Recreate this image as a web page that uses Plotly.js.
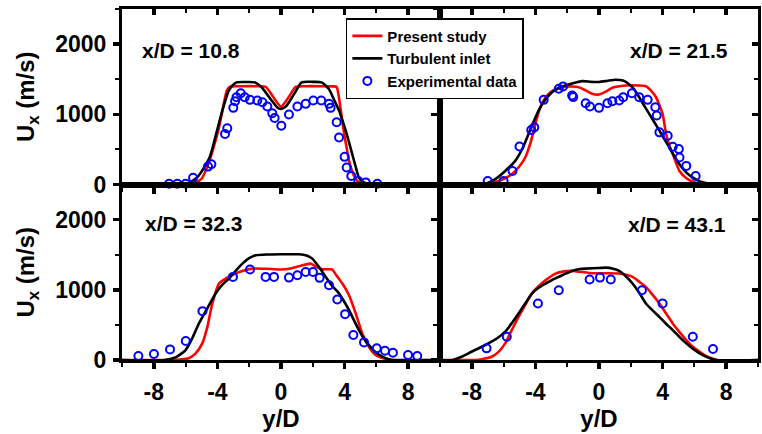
<!DOCTYPE html>
<html>
<head>
<meta charset="utf-8">
<script src="https://cdn.plot.ly/plotly-3.0.1.min.js"></script>
<style>html,body{margin:0;padding:0;background:#fff;}#chart{width:762px;height:434px;}</style>
</head>
<body>
<div id="chart"></div>
<script>
// ---------- data: y/D positions and U_x (m/s) ----------
const panelLabels = ["x/D = 10.8", "x/D = 21.5", "x/D = 32.3", "x/D = 43.1"];
const seriesNames = ["Present study", "Turbulent inlet", "Experimental data"];
const xTickVals = [-8, -4, 0, 4, 8];
const xTickText = ["-8", "-4", "0", "4", "8"];
const yTickVals = [0, 1000, 2000];

// Panel 1: x/D = 10.8
const p1RedY = [-10,-6,-5.5,-5.0,-4.5,-4.2,-3.9,-3.6,-3.4,-3.2,-2.5,-1.5,-0.96,-0.5,0,0.5,0.92,1.5,2.5,3.3,3.5,3.6,3.75,3.9,4.1,4.28,4.5,4.8,5.2,5.6,10];
const p1RedU = [0,0,15,80,336,560,814,1150,1340,1395,1400,1400,1390,1250,1110,1250,1390,1400,1400,1398,1390,1300,1080,830,560,336,170,50,10,0,0];
const p1BlkY = [-10,-6.5,-5.8,-5.2,-4.5,-4.1,-3.69,-3.3,-3.06,-2.8,-2.2,-1.64,-1.2,-0.6,-0.2,0,0.3,0.8,1.3,2.0,2.55,3.0,3.35,3.65,3.85,4.07,4.28,4.48,4.7,4.9,5.2,5.7,10];
const p1BlkU = [0,0,20,120,380,700,1053,1330,1410,1455,1460,1455,1380,1200,1090,1077,1110,1280,1455,1462,1455,1364,1200,1053,920,767,600,433,250,100,30,0,0];
const p1ExpY = [-7.04,-6.52,-6.0,-5.53,-4.59,-4.38,-3.52,-3.38,-3.0,-2.89,-2.8,-2.53,-2.28,-1.95,-1.49,-1.17,-0.86,-0.55,-0.4,0.02,0.5,1.03,1.55,2.03,2.53,3.02,3.12,3.5,3.65,4.0,4.13,4.42,4.86,5.33,6.06];
const p1ExpU = [11,11,11,97,255,289,719,800,1092,1186,1243,1301,1243,1206,1196,1172,1110,1014,948,838,996,1110,1149,1196,1196,1149,1092,886,670,394,241,122,50,30,11];

// Panel 2: x/D = 21.5
const p2RedY = [-10,-7.5,-7.0,-6.3,-5.49,-5.0,-4.64,-4.3,-4.0,-3.8,-3.59,-3.3,-2.95,-2.4,-1.69,-1.2,-0.84,-0.4,0,0.4,0.84,1.69,2.5,2.95,3.3,3.59,3.8,4.0,4.22,4.45,4.64,5.06,5.5,5.9,6.5,10];
const p2RedU = [0,0,10,50,146,260,384,600,862,1030,1149,1260,1330,1380,1397,1380,1340,1290,1282,1320,1378,1410,1410,1400,1330,1243,1130,1006,719,540,433,193,90,40,0,0];
const p2BlkY = [-10,-7.6,-7.0,-6.5,-5.9,-5.27,-4.8,-4.43,-4.1,-3.8,-3.5,-3.16,-2.8,-2.32,-1.7,-1.05,-0.5,0,0.5,1.05,1.5,1.79,2.2,2.53,2.85,3.16,3.5,3.8,4.1,4.43,4.75,5.06,5.5,5.9,6.4,6.96,7.5,10];
const p2BlkU = [0,0,20,80,193,336,520,719,900,1053,1170,1268,1340,1397,1440,1473,1462,1460,1475,1493,1480,1445,1360,1243,1120,1006,880,767,650,527,400,289,170,97,40,11,0,0];
const p2ExpY = [-7.0,-6.0,-5.44,-5.0,-4.26,-4.07,-3.48,-2.53,-2.26,-1.69,-1.62,-0.84,-0.57,0,0.53,0.84,1.27,1.52,2.07,2.53,3.06,3.54,3.63,3.8,4.32,4.64,5.02,5.06,5.49,6.08];
const p2ExpU = [50,50,193,542,776,814,1206,1364,1397,1268,1245,1158,1110,1092,1158,1186,1196,1243,1301,1243,1206,1101,982,743,695,537,504,384,265,122];

// Panel 3: x/D = 32.3
const p3RedY = [-10,-7.0,-6.4,-5.8,-5.37,-4.95,-4.63,-4.32,-3.9,-3.58,-3.0,-2.43,-1.8,-1.0,0,0.5,1.2,1.87,2.2,2.6,3.2,3.5,3.86,4.28,4.7,5.11,5.53,5.95,6.58,7.0,10];
const p3RedU = [0,0,5,24,95,237,473,805,1089,1146,1220,1269,1302,1300,1290,1300,1340,1373,1330,1292,1290,1200,1089,923,663,379,189,71,14,0,0];
const p3BlkY = [-10,-7.3,-6.6,-6.0,-5.6,-5.16,-4.6,-4.11,-3.7,-3.27,-2.85,-2.43,-2.0,-1.59,-0.8,0.08,1.13,1.6,1.97,2.4,2.81,3.2,3.65,3.95,4.28,4.6,4.9,5.2,5.53,5.9,6.37,6.9,7.2,10];
const p3BlkU = [0,0,40,142,300,521,750,947,1070,1160,1270,1373,1450,1491,1503,1506,1506,1490,1444,1320,1184,1060,947,840,710,560,426,310,213,120,47,5,0,0];
const p3ExpY = [-8.97,-7.99,-6.98,-5.99,-4.94,-3.02,-1.95,-0.97,-0.44,0.5,1.03,1.55,2.01,2.43,3.02,3.54,4.03,4.55,5.22,6.02,6.54,7.04,7.99,8.57];
const p3ExpU = [57,85,151,270,696,1184,1288,1184,1184,1174,1207,1254,1254,1170,1065,862,653,355,251,166,132,104,71,57];

// Panel 4: x/D = 43.1
const p4RedY = [-10,-7.8,-7.3,-6.75,-6.3,-5.9,-5.5,-5.06,-4.6,-4.22,-3.8,-3.37,-2.74,-2.2,-1.69,-0.63,0,1.27,2.11,2.5,2.95,3.4,3.8,4.2,4.64,5.05,5.49,5.9,6.33,6.8,7.4,10];
const p4RedU = [0,0,15,47,120,237,420,615,800,947,1050,1136,1231,1262,1269,1240,1235,1231,1184,1120,1042,920,805,670,521,400,284,190,118,50,0,0];
const p4BlkY = [-10,-9.2,-8.6,-8.02,-7.5,-6.96,-6.4,-5.9,-5.5,-5.06,-4.6,-4.22,-3.8,-3.37,-2.95,-2.53,-2.1,-1.69,-1.2,-0.84,0,0.42,0.9,1.27,1.7,2.11,2.55,2.95,3.4,3.8,4.2,4.64,5.05,5.49,5.9,6.33,6.9,7.4,10];
const p4BlkU = [0,0,50,118,175,237,310,403,520,663,820,947,1030,1089,1140,1184,1230,1269,1295,1302,1310,1316,1300,1269,1190,1089,950,805,700,615,520,426,330,237,160,95,30,0,0];
const p4ExpY = [-7.07,-5.8,-3.84,-2.53,-0.59,0.06,0.74,2.7,4.0,5.9,7.17];
const p4ExpU = [166,332,805,994,1146,1174,1146,994,805,332,156];

// ---------- build ----------
const RED = "#ff0000", BLK = "#000000", BLU = "#0000ff";
const FONT = "Liberation Sans, Arial, sans-serif";
const panels = [
  {red:[p1RedY,p1RedU], blk:[p1BlkY,p1BlkU], exp:[p1ExpY,p1ExpU], xa:"x",  ya:"y",  mx:"x5", my:"y5"},
  {red:[p2RedY,p2RedU], blk:[p2BlkY,p2BlkU], exp:[p2ExpY,p2ExpU], xa:"x2", ya:"y2", mx:"x6", my:"y6"},
  {red:[p3RedY,p3RedU], blk:[p3BlkY,p3BlkU], exp:[p3ExpY,p3ExpU], xa:"x3", ya:"y3", mx:"x7", my:"y7"},
  {red:[p4RedY,p4RedU], blk:[p4BlkY,p4BlkU], exp:[p4ExpY,p4ExpU], xa:"x4", ya:"y4", mx:"x8", my:"y8"}
];
const traces = [];
panels.forEach((p, i) => {
  // helper traces (no visible marks) so the mirrored inside-tick axes get drawn
  traces.push({x:[null], y:[null], xaxis:p.mx, yaxis:p.ya, type:"scatter", mode:"lines", showlegend:false, hoverinfo:"skip"});
  traces.push({x:[null], y:[null], xaxis:p.xa, yaxis:p.my, type:"scatter", mode:"lines", showlegend:false, hoverinfo:"skip"});
});
panels.forEach((p, i) => {
  traces.push({x:p.red[0], y:p.red[1], xaxis:p.xa, yaxis:p.ya, type:"scatter", mode:"lines",
    name:seriesNames[0], showlegend:i===0, line:{color:RED, width:2.6, shape:"spline", smoothing:0.6}});
  traces.push({x:p.blk[0], y:p.blk[1], xaxis:p.xa, yaxis:p.ya, type:"scatter", mode:"lines",
    name:seriesNames[1], showlegend:i===0, line:{color:BLK, width:2.6, shape:"spline", smoothing:0.6}});
  traces.push({x:p.exp[0], y:p.exp[1], xaxis:p.xa, yaxis:p.ya, type:"scatter", mode:"markers",
    name:seriesNames[2], showlegend:i===0, cliponaxis:false,
    marker:{symbol:"circle-open", size:8, color:BLU, line:{width:2, color:BLU}}});
});

const tickFont = {family:FONT, size:23, color:"#000", weight:"bold"};
function xBase(domain, anchor, labels) {
  return {domain:domain, anchor:anchor, range:[-10,10], tickmode:"array", tickvals:xTickVals, ticktext:xTickText,
    ticks:"outside", ticklen:6, tickwidth:3.5, tickcolor:"#000000",
    minor:{tickmode:"linear", dtick:2, tick0:0, ticks:"outside", ticklen:4, tickwidth:2, tickcolor:"#000000"},
    showline:true, linewidth:3, linecolor:"#000000", mirror:true, zeroline:false, showgrid:false,
    showticklabels:labels, tickfont:tickFont, ticklabelstandoff:3,
    title: labels ? {text:"y/D", font:{family:FONT, size:24, color:"#000", weight:"bold"}, standoff:4} : undefined};
}
function yBase(domain, anchor, labels) {
  return {domain:domain, anchor:anchor, range:[0,2500], tickmode:"array", tickvals:yTickVals,
    ticks:"outside", ticklen:6, tickwidth:3.5, tickcolor:"#000000",
    minor:{tickmode:"linear", dtick:500, tick0:0, ticks:"outside", ticklen:4, tickwidth:2, tickcolor:"#000000"},
    showline:true, linewidth:3, linecolor:"#000000", mirror:true, zeroline:false, showgrid:false,
    showticklabels:labels, tickfont:tickFont, ticklabelstandoff:2,
    title: labels ? {text:"U<sub>x</sub> (m/s)", font:{family:FONT, size:24, color:"#000", weight:"bold"}, standoff:14} : undefined};
}
function xMirror(over, anchor) {
  return {overlaying:over, anchor:anchor, side:"top", range:[-10,10], tickmode:"array", tickvals:xTickVals,
    ticks:"inside", ticklen:6, tickwidth:3.5, tickcolor:"#000000",
    minor:{tickmode:"linear", dtick:2, tick0:0, ticks:"inside", ticklen:4, tickwidth:2, tickcolor:"#000000"},
    showline:false, showticklabels:false, zeroline:false, showgrid:false};
}
function yMirror(over, anchor) {
  return {overlaying:over, anchor:anchor, side:"right", range:[0,2500], tickmode:"array", tickvals:yTickVals,
    ticks:"inside", ticklen:6, tickwidth:3.5, tickcolor:"#000000",
    minor:{tickmode:"linear", dtick:500, tick0:0, ticks:"inside", ticklen:4, tickwidth:2, tickcolor:"#000000"},
    showline:false, showticklabels:false, zeroline:false, showgrid:false};
}

const annFont = {family:FONT, size:21, color:"#000", weight:"bold"};
const layout = {
  width:762, height:434,
  margin:{l:122, r:4, t:9, b:74, pad:0},
  paper_bgcolor:"#fff", plot_bgcolor:"#fff",
  showlegend:true,
  legend:{x:0.352, xanchor:"left", y:0.974, yanchor:"top", bgcolor:"#fff", bordercolor:"#000", borderwidth:1.5,
    font:{family:FONT, size:15, color:"#000", weight:"bold"}, tracegroupgap:0, itemwidth:30},
  xaxis: xBase([0,0.5], "y", false),
  xaxis2: xBase([0.5,1], "y2", false),
  xaxis3: xBase([0,0.5], "y3", true),
  xaxis4: xBase([0.5,1], "y4", true),
  yaxis: yBase([0.5,1], "x", true),
  yaxis2: yBase([0.5,1], "x2", false),
  yaxis3: yBase([0,0.5], "x3", true),
  yaxis4: yBase([0,0.5], "x4", false),
  xaxis5: xMirror("x", "y"),
  xaxis6: xMirror("x2", "y2"),
  xaxis7: xMirror("x3", "y3"),
  xaxis8: xMirror("x4", "y4"),
  yaxis5: yMirror("y", "x"),
  yaxis6: yMirror("y2", "x2"),
  yaxis7: yMirror("y3", "x3"),
  yaxis8: yMirror("y4", "x4"),
  annotations:[
    {text:panelLabels[0], xref:"x domain", yref:"y domain", x:0.057, y:0.766, xanchor:"left", yanchor:"middle", showarrow:false, font:annFont},
    {text:panelLabels[1], xref:"x2 domain", yref:"y2 domain", x:0.912, y:0.766, xanchor:"right", yanchor:"middle", showarrow:false, font:annFont},
    {text:panelLabels[2], xref:"x3 domain", yref:"y3 domain", x:0.066, y:0.78, xanchor:"left", yanchor:"middle", showarrow:false, font:annFont},
    {text:panelLabels[3], xref:"x4 domain", yref:"y4 domain", x:0.906, y:0.77, xanchor:"right", yanchor:"middle", showarrow:false, font:annFont}
  ]
};

Plotly.newPlot("chart", traces, layout, {displayModeBar:false, staticPlot:true});
</script>
</body>
</html>
